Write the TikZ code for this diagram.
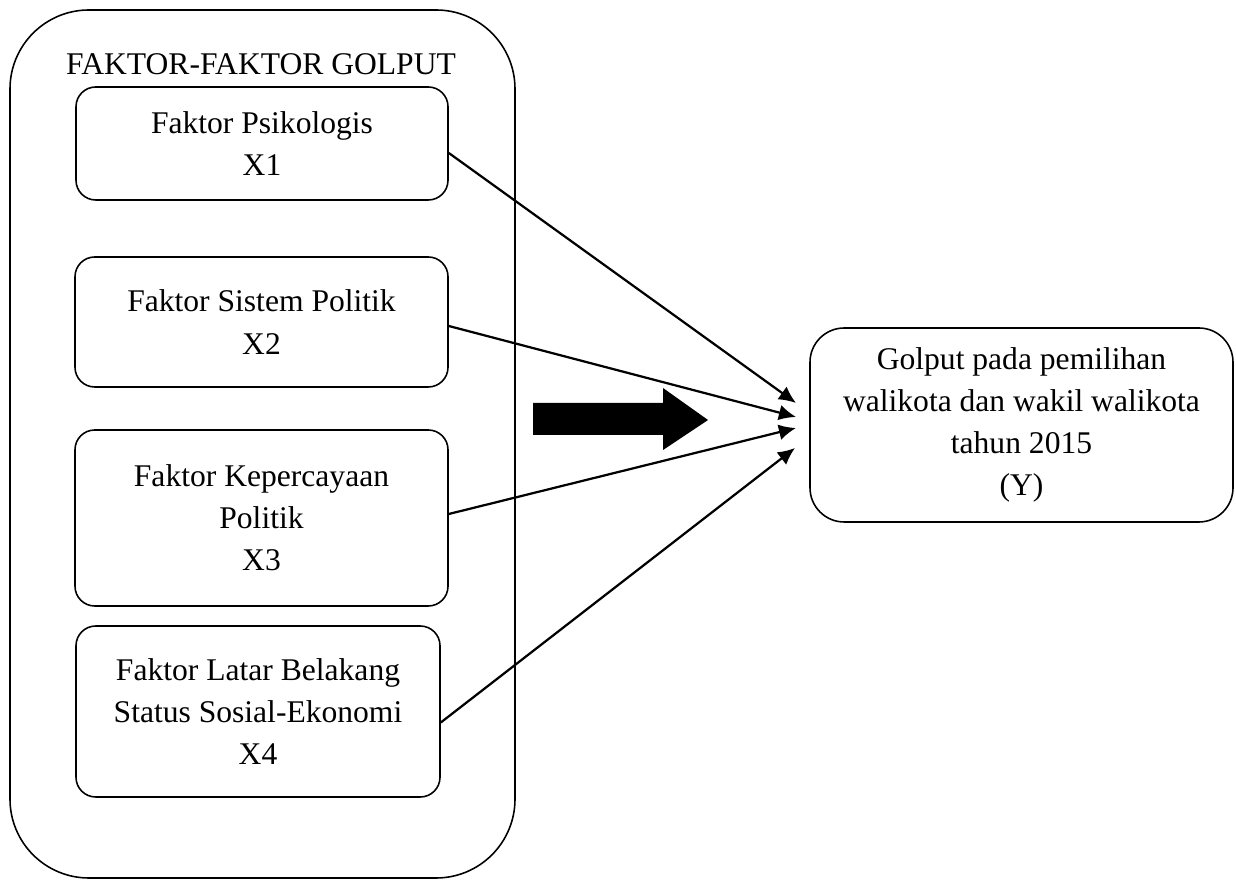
\documentclass[tikz,border=0pt]{standalone}
\usepackage{fontspec}
\setmainfont{Liberation Serif}
\usetikzlibrary{arrows.meta}
\begin{document}
\begin{tikzpicture}[x=0.38pt,y=-0.38pt,>={Latex[length=6.5pt,width=6pt]},line join=round,font=\fontsize{12}{16}\selectfont]
	\def\uu{0.38pt} % 1 px
	\tikzset{
		kotak/.style={draw,line width=0.6pt,rounded corners=7.5pt,align=center,inner sep=0pt,minimum width=#1*\uu},
		panah/.style={->,line width=0.85pt}
	}
	\useasboundingbox (0,0) rectangle (1236,880);
	% kelompok faktor (X)
	\node[draw,line width=0.6pt,rounded corners=30pt,minimum width=505*\uu,minimum height=868*\uu] (grup) at (262.5,444) {};
	\node[anchor=base] (judul) at (261,75) {FAKTOR-FAKTOR GOLPUT};
	\node[kotak=372,minimum height=113*\uu] (x1) at (262,143.5) {Faktor Psikologis\\X1};
	\node[kotak=373,minimum height=130*\uu] (x2) at (261.5,322) {Faktor Sistem Politik\\X2};
	\node[kotak=373,minimum height=176*\uu] (x3) at (261.5,518) {Faktor Kepercayaan\\Politik\\X3};
	\node[kotak=364,minimum height=171*\uu] (x4) at (258,711.5) {Faktor Latar Belakang\\Status Sosial-Ekonomi\\X4};
	% variabel Y
	\node[kotak=423,minimum height=194*\uu,rounded corners=13pt] (y) at (1021.5,425) {Golput pada pemilihan\\walikota dan wakil walikota\\tahun 2015\\(Y)};
	% ujung panah
	\coordinate (t1) at (796,403);
	\coordinate (t2) at (796,417);
	\coordinate (t3) at (796,428);
	\coordinate (t4) at (795,448);
	\draw[panah] ([yshift=-9.5*\uu]x1.east) -- (t1);
	\draw[panah] ([yshift=-4*\uu]x2.east) -- (t2);
	\draw[panah] ([yshift=4*\uu]x3.east) -- (t3);
	\draw[panah] ([yshift=-11*\uu]x4.east) -- (t4);
	% panah besar
	\fill (533,403) -- (663,403) -- (663,388) -- (708,420) -- (663,450) -- (663,435) -- (533,435) -- cycle;
\end{tikzpicture}
\end{document}
